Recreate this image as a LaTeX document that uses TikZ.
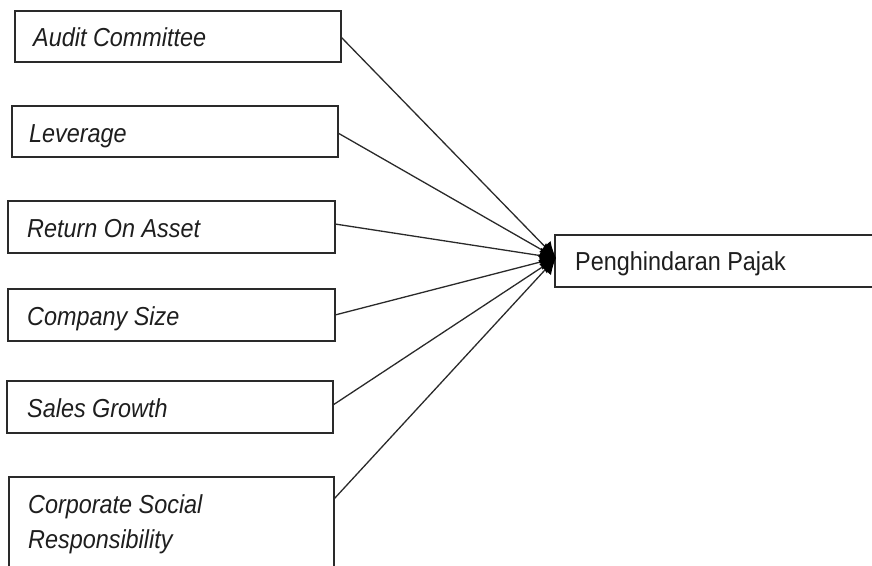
\documentclass[tikz,border=0pt]{standalone}
\usepackage{fontspec}
\setmainfont{Liberation Sans}[FakeStretch=0.9]
\usetikzlibrary{arrows.meta}
\definecolor{ink}{HTML}{1E1E1E}
\definecolor{edge}{HTML}{2A2A2A}
\begin{document}
\begin{tikzpicture}[x=1pt,y=-1pt,
  box/.style={draw=edge, line width=1.3pt, anchor=north west, inner sep=0pt, outer sep=0pt},
  lbl/.style={anchor=base west, inner sep=0pt, text=ink, font=\fontsize{26}{35}\selectfont\itshape},
  lblup/.style={anchor=base west, inner sep=0pt, text=ink, font=\fontsize{26}{35}\selectfont},
  link/.style={draw=edge, line width=1.3pt, -{Latex[length=16pt,width=16pt,fill=black,color=black]}}]
\useasboundingbox (0,0) rectangle (872,565);
\clip (0,0) rectangle (872,565);
% boxes
\node[box, minimum width=326pt, minimum height=51pt] (ac) at (15,11) {};
\node[box, minimum width=326pt, minimum height=51pt] (lev) at (12,106) {};
\node[box, minimum width=327pt, minimum height=52pt] (roa) at (8,201) {};
\node[box, minimum width=327pt, minimum height=52pt] (cs) at (8,289) {};
\node[box, minimum width=326pt, minimum height=52pt] (sg) at (7,381) {};
\node[box, minimum width=325pt, minimum height=100pt] (csr) at (9,477) {};
\node[box, minimum width=340pt, minimum height=52pt] (pp) at (555,235) {};
% labels
\node[lbl] (tac) at (33,46) {Audit Committee};
\node[lbl] (tlev) at (29,142) {Leverage};
\node[lbl] (troa) at (27,237) {Return On Asset};
\node[lbl] (tcs) at (27,325) {Company Size};
\node[lbl] (tsg) at (27,417) {Sales Growth};
\node[lbl] (tcsra) at (28,513) {Corporate Social};
\node[lbl] (tcsrb) at (28,548) {Responsibility};
\node[lblup] (tpp) at (575,270) {Penghindaran Pajak};
% ports
\coordinate (tip) at (556,258);
\coordinate (pac) at (341,37);
\coordinate (plev) at (338,133);
\coordinate (proa) at (335,224);
\coordinate (pcs) at (335,315);
\coordinate (psg) at (333,405);
\coordinate (pcsr) at (334,499);
% connectors
\draw[link] (pac) -- (tip);
\draw[link] (plev) -- (tip);
\draw[link] (proa) -- (tip);
\draw[link] (pcs) -- (tip);
\draw[link] (psg) -- (tip);
\draw[link] (pcsr) -- (tip);
\end{tikzpicture}
\end{document}
